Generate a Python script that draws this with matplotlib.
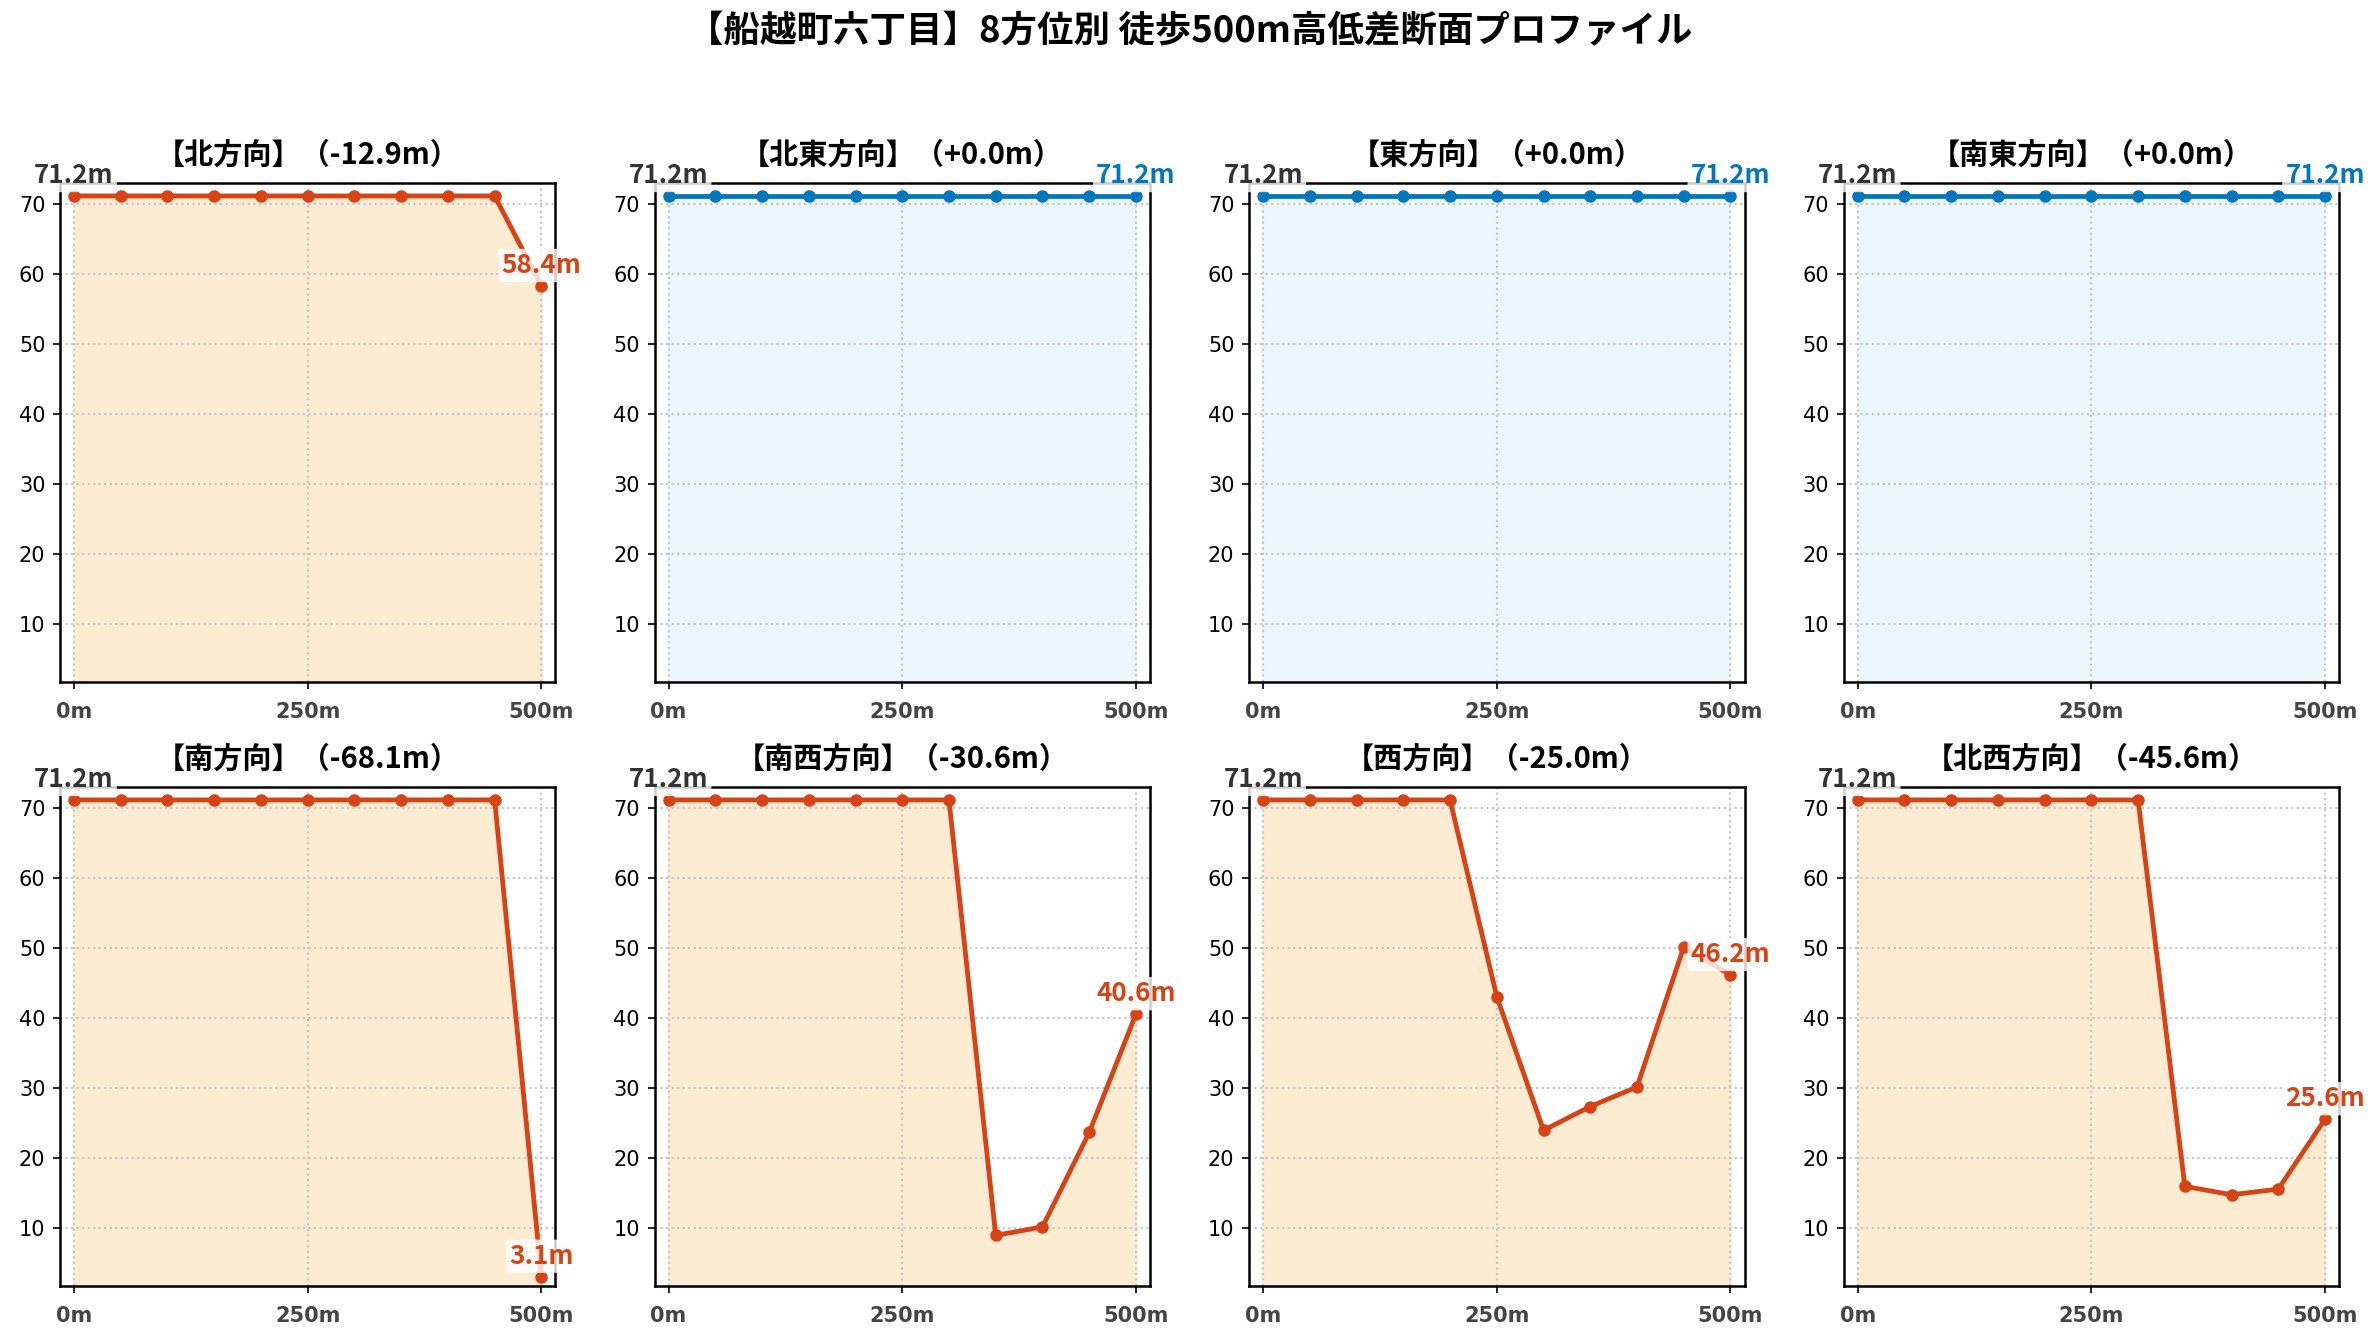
import matplotlib
matplotlib.use("Agg")
import matplotlib.pyplot as plt
import numpy as np

plt.rcParams['font.family'] = ['DejaVu Sans']
CJK = ['Noto Sans CJK JP', 'DejaVu Sans']

suptitle = "【船越町六丁目】8方位別 徒歩500m高低差断面プロファイル"
distances = [0, 50, 100, 150, 200, 250, 300, 350, 400, 450, 500]
directions = ["北方向", "北東方向", "東方向", "南東方向", "南方向", "南西方向", "西方向", "北西方向"]

elev_n  = [71.2, 71.2, 71.2, 71.2, 71.2, 71.2, 71.2, 71.2, 71.2, 71.2, 58.35]
elev_ne = [71.2, 71.2, 71.2, 71.2, 71.2, 71.2, 71.2, 71.2, 71.2, 71.2, 71.2]
elev_e  = [71.2, 71.2, 71.2, 71.2, 71.2, 71.2, 71.2, 71.2, 71.2, 71.2, 71.2]
elev_se = [71.2, 71.2, 71.2, 71.2, 71.2, 71.2, 71.2, 71.2, 71.2, 71.2, 71.2]
elev_s  = [71.2, 71.2, 71.2, 71.2, 71.2, 71.2, 71.2, 71.2, 71.2, 71.2, 3.1]
elev_sw = [71.2, 71.2, 71.2, 71.2, 71.2, 71.2, 71.2, 9.0, 10.2, 23.7, 40.6]
elev_w  = [71.2, 71.2, 71.2, 71.2, 71.2, 43.1, 24.0, 27.4, 30.2, 50.2, 46.2]
elev_nw = [71.2, 71.2, 71.2, 71.2, 71.2, 71.2, 71.2, 16.0, 14.8, 15.6, 25.6]
elevations = [elev_n, elev_ne, elev_e, elev_se, elev_s, elev_sw, elev_w, elev_nw]

xtick_vals = [0, 250, 500]
xtick_labels = ["0m", "250m", "500m"]
ytick_vals = [10, 20, 30, 40, 50, 60, 70]

RED = '#D84315'
RED_FILL = '#FDEBD2'
BLUE = '#0277BD'
BLUE_FILL = '#EBF7FC'
YLIM = (1.8, 73.1)

fig, axes = plt.subplots(2, 4, figsize=(2380/150, 1340/150), dpi=150)
fig.subplots_adjust(left=0.0252, right=0.9828, top=0.8637, bottom=0.0405,
                    wspace=0.2, hspace=0.21)

for ax, name, elev in zip(axes.flat, directions, elevations):
    x = np.array(distances)
    y = np.array(elev)
    diff = y[-1] - y[0]
    col = BLUE if diff >= 0 else RED
    fill = BLUE_FILL if diff >= 0 else RED_FILL
    ax.fill_between(x, y, YLIM[0], color=fill, zorder=1)
    ax.plot(x, y, color=col, lw=2.3, marker='o', ms=5, zorder=3)
    ax.set_xlim(-15, 515)
    ax.set_ylim(*YLIM)
    ax.set_xticks(xtick_vals)
    ax.set_xticklabels(xtick_labels, fontweight='bold', color='#444444', fontsize=10)
    ax.set_yticks(ytick_vals)
    ax.tick_params(axis='y', labelsize=10)
    ax.tick_params(axis='x', pad=6)
    ax.grid(True, linestyle=':', color='#c4c4c4', linewidth=1, zorder=0)
    for s in ax.spines.values():
        s.set_linewidth(1.2)
    ax.set_title(f"【{name}】（{diff:+.1f}m）", family=CJK, fontweight='bold',
                 fontsize=14, pad=9)
    ax.annotate(f"{y[0]:.1f}m", (x[0], y[0]), xytext=(0, 6.2), textcoords='offset points',
                ha='center', va='baseline', family=CJK, fontweight='bold', fontsize=12.5,
                color='#333333', zorder=5, annotation_clip=False,
                bbox=dict(boxstyle='round,pad=0.12', fc='white', ec='none', alpha=0.8))
    ax.annotate(f"{y[-1]:.1f}m", (x[-1], y[-1]), xytext=(0, 6.2), textcoords='offset points',
                ha='center', va='baseline', family=CJK, fontweight='bold', fontsize=12.5,
                color=col, zorder=5, annotation_clip=False,
                bbox=dict(boxstyle='round,pad=0.12', fc='white', ec='none', alpha=0.8))

fig.suptitle(suptitle, family=CJK, fontweight='bold', fontsize=17.5, y=0.976, va='center')
fig.savefig('out.png', dpi=150)
